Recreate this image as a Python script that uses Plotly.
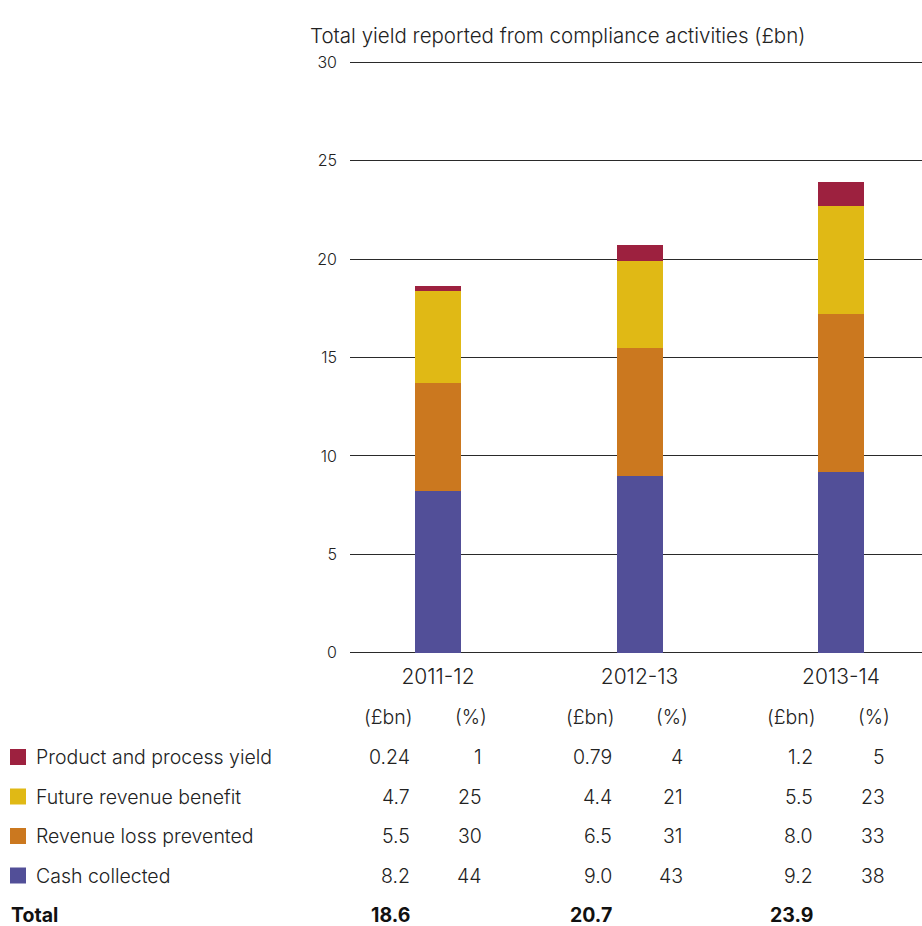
import plotly.graph_objects as go

categories = ["2011-12", "2012-13", "2013-14"]
series_names = ["Cash collected", "Revenue loss prevented", "Future revenue benefit", "Product and process yield"]
cash_collected = [8.2, 9.0, 9.2]
revenue_loss_prevented = [5.5, 6.5, 8.0]
future_revenue_benefit = [4.7, 4.4, 5.5]
product_process_yield = [0.24, 0.79, 1.2]
cash_pct = [44, 43, 38]
revenue_pct = [30, 31, 33]
future_pct = [25, 21, 23]
product_pct = [1, 4, 5]
value_labels = {
    "Product and process yield": ["0.24", "0.79", "1.2"],
    "Future revenue benefit": ["4.7", "4.4", "5.5"],
    "Revenue loss prevented": ["5.5", "6.5", "8.0"],
    "Cash collected": ["8.2", "9.0", "9.2"],
}
totals = ["18.6", "20.7", "23.9"]
y_ticks = [0, 5, 10, 15, 20, 25, 30]
title_text = "Total yield reported from compliance activities (£bn)"

colors = {
    "Cash collected": "#524f98",
    "Revenue loss prevented": "#cb781f",
    "Future revenue benefit": "#e0b915",
    "Product and process yield": "#9d213f",
}
values = {
    "Cash collected": cash_collected,
    "Revenue loss prevented": revenue_loss_prevented,
    "Future revenue benefit": future_revenue_benefit,
    "Product and process yield": product_process_yield,
}
pcts = {
    "Cash collected": cash_pct,
    "Revenue loss prevented": revenue_pct,
    "Future revenue benefit": future_pct,
    "Product and process yield": product_pct,
}

FONT = "Inter, Liberation Sans, Arial, sans-serif"
FS = 19.5
TXT = "#222222"
LIGHT = 300
W, H = 922, 926
pad_units = 0.06
L, R, T, B = 350, 0, 61, 272
plot_h = H - T - B
plot_w = W - L - R
xs = list(range(len(categories)))
px_per_unit = 201.5
x_lo = -88 / px_per_unit
x_hi = x_lo + plot_w / px_per_unit
y_lo, y_hi = -pad_units, 30 + pad_units

fig = go.Figure()
for name in series_names:
    fig.add_trace(go.Bar(
        x=xs, y=values[name], name=name,
        marker=dict(color=colors[name], line=dict(width=0)),
        width=46 / px_per_unit, showlegend=False, hoverinfo="skip",
    ))


def py(pix):
    return (H - B - pix) / plot_h


def pxp(pix):
    return (pix - L) / plot_w


def fnt(size=FS, bold=False):
    return dict(size=size, color="#111111" if bold else TXT, family=FONT,
                weight=700 if bold else LIGHT)


ann = []
ann.append(dict(text=title_text, x=pxp(308), y=py(35), xref="paper", yref="paper",
                xanchor="left", yanchor="middle", showarrow=False, font=fnt(20.5)))

val_off = -26 / px_per_unit
pct_off = 45.5 / px_per_unit
hdr_shift = 3

rows = ["Product and process yield", "Future revenue benefit", "Revenue loss prevented", "Cash collected"]
row_y = [757, 796.5, 836, 875.5]
hdr_y = 717
tot_y = 915

for i in xs:
    ann.append(dict(text="(£bn)", x=i + val_off, y=py(hdr_y), xref="x", yref="paper",
                    xanchor="right", yanchor="middle", xshift=hdr_shift, showarrow=False,
                    font=fnt()))
    ann.append(dict(text="(%)", x=i + pct_off, y=py(hdr_y), xref="x", yref="paper",
                    xanchor="right", yanchor="middle", xshift=hdr_shift + 2, showarrow=False,
                    font=fnt()))
    for r, yy in zip(rows, row_y):
        ann.append(dict(text=value_labels[r][i], x=i + val_off, y=py(yy), xref="x", yref="paper",
                        xanchor="right", yanchor="middle", showarrow=False, font=fnt()))
        ann.append(dict(text=str(pcts[r][i]), x=i + pct_off, y=py(yy), xref="x", yref="paper",
                        xanchor="right", yanchor="middle", showarrow=False, font=fnt()))
    ann.append(dict(text=totals[i], x=i + val_off, y=py(tot_y), xref="x", yref="paper",
                    xanchor="right", yanchor="middle", showarrow=False, font=fnt(bold=True)))

shapes = []
for r, yy in zip(rows, row_y):
    shapes.append(dict(type="rect", xref="paper", yref="paper",
                       x0=pxp(10), x1=pxp(26), y0=py(yy - 8), y1=py(yy + 8),
                       fillcolor=colors[r], line=dict(width=0)))
    ann.append(dict(text=r, x=pxp(34), y=py(yy), xref="paper", yref="paper",
                    xanchor="left", yanchor="middle", showarrow=False, font=fnt()))
ann.append(dict(text="Total", x=pxp(9), y=py(tot_y), xref="paper", yref="paper",
                xanchor="left", yanchor="middle", showarrow=False, font=fnt(bold=True)))

fig.update_layout(
    width=W, height=H,
    margin=dict(l=L, r=R, t=T, b=B, pad=0),
    paper_bgcolor="white", plot_bgcolor="white",
    barmode="stack",
    font=dict(family=FONT, size=17, color=TXT),
    xaxis=dict(range=[x_lo, x_hi], tickmode="array", tickvals=xs, ticktext=categories,
               showgrid=False, zeroline=False, showline=False, ticks="",
               ticklabelstandoff=8,
               tickfont=fnt(21), fixedrange=True),
    yaxis=dict(range=[y_lo, y_hi], tickmode="array", tickvals=y_ticks,
               ticktext=[str(v) for v in y_ticks],
               showgrid=True, gridcolor="#2a2a2a", gridwidth=1,
               zeroline=False, showline=False, ticks="",
               ticklabelstandoff=12,
               tickfont=fnt(16), fixedrange=True),
    annotations=ann, shapes=shapes,
)

fig.write_html("out.html")
